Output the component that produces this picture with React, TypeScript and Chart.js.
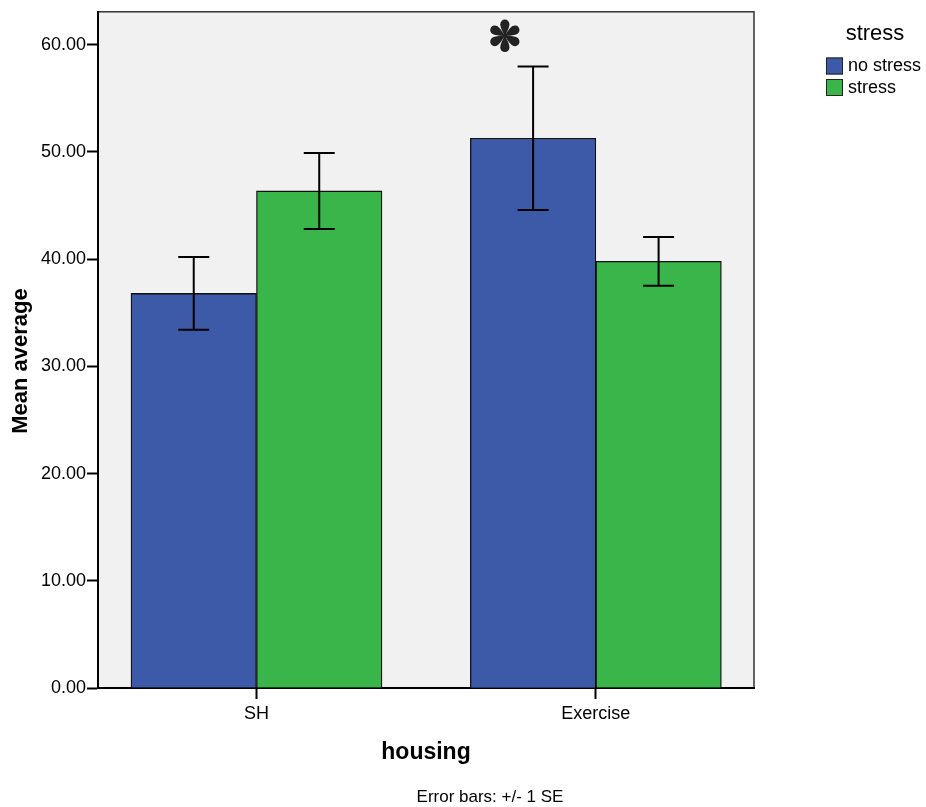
import React, { useEffect, useRef } from "react";
import { Chart, registerables } from "chart.js";

Chart.register(...registerables);

// Groups on the x axis
const categories = ["SH", "Exercise"];
// Group means per stress condition
const noStressMeans = [36.8, 51.28];
const stressMeans = [46.36, 39.8];
// Standard errors (error bars are +/- 1 SE)
const noStressSE = [3.39, 6.69];
const stressSE = [3.54, 2.27];
// Y axis tick values
const yTickValues = [0, 10, 20, 30, 40, 50, 60];

const seriesNames = ["no stress", "stress"];
const seriesColors = ["#3d5aa9", "#39b54a"];
const FONT = '"Liberation Sans", Arial, sans-serif';

const plotBackground = {
  id: "plotBackground",
  beforeDraw(chart: any) {
    const { ctx, chartArea: a } = chart;
    ctx.save();
    ctx.fillStyle = "#f0f1f0";
    ctx.fillRect(a.left, a.top, a.right - a.left, a.bottom - a.top);
    ctx.strokeStyle = "#333";
    ctx.lineWidth = 1.5;
    ctx.strokeRect(a.left, a.top, a.right - a.left, a.bottom - a.top);
    ctx.restore();
  },
};

const errorBars = {
  id: "errorBars",
  afterDatasetsDraw(chart: any) {
    const { ctx } = chart;
    const y = chart.scales.y;
    const seList = [noStressSE, stressSE];
    const means = [noStressMeans, stressMeans];
    ctx.save();
    ctx.strokeStyle = "#000";
    ctx.lineWidth = 2;
    chart.data.datasets.forEach((_: any, di: number) => {
      const meta = chart.getDatasetMeta(di);
      meta.data.forEach((bar: any, i: number) => {
        const hi = y.getPixelForValue(means[di][i] + seList[di][i]);
        const lo = y.getPixelForValue(means[di][i] - seList[di][i]);
        const cx = bar.x;
        const cap = 15.5;
        ctx.beginPath();
        ctx.moveTo(cx, hi);
        ctx.lineTo(cx, lo);
        ctx.moveTo(cx - cap, hi);
        ctx.lineTo(cx + cap, hi);
        ctx.moveTo(cx - cap, lo);
        ctx.lineTo(cx + cap, lo);
        ctx.stroke();
      });
    });
    ctx.restore();
  },
};

const annotations = {
  id: "annotations",
  afterDraw(chart: any) {
    const { ctx, chartArea: a } = chart;
    const xs = chart.scales.x;
    ctx.save();

    // significance asterisk above the Exercise / no stress bar
    const sx = xs.getPixelForValue(1) - 91;
    const sy = a.top + 24;
    ctx.fillStyle = "#222";
    for (let k = 0; k < 6; k++) {
      // teardrop petal: narrow near the centre, round at the tip
      ctx.save();
      ctx.translate(sx, sy);
      ctx.rotate((k * Math.PI) / 3);
      ctx.beginPath();
      ctx.moveTo(0, 0);
      ctx.bezierCurveTo(-2.5, -4, -4.6, -9, -4.6, -11.6);
      ctx.arc(0, -11.6, 4.6, Math.PI, 0, false);
      ctx.bezierCurveTo(4.6, -9, 2.5, -4, 0, 0);
      ctx.closePath();
      ctx.fill();
      ctx.restore();
    }
    ctx.beginPath();
    ctx.arc(sx, sy, 2.2, 0, Math.PI * 2);
    ctx.fill();

    ctx.fillStyle = "#000";
    // x axis title
    ctx.font = `bold 23px ${FONT}`;
    ctx.textAlign = "center";
    ctx.textBaseline = "alphabetic";
    ctx.fillText("housing", (a.left + a.right) / 2, 759);

    // footnote
    ctx.font = `17px ${FONT}`;
    ctx.fillText("Error bars: +/- 1 SE", 490, 802);

    // y axis title
    ctx.save();
    ctx.translate(27, 361);
    ctx.rotate(-Math.PI / 2);
    ctx.font = `bold 22px ${FONT}`;
    ctx.textAlign = "center";
    ctx.fillText("Mean average", 0, 0);
    ctx.restore();

    // legend
    ctx.font = `22px ${FONT}`;
    ctx.textAlign = "center";
    ctx.textBaseline = "middle";
    ctx.fillText("stress", 875, 34);
    ctx.font = `18px ${FONT}`;
    ctx.textAlign = "left";
    seriesNames.forEach((name, i) => {
      const by = 57.5 + i * 21.5;
      ctx.fillStyle = seriesColors[i];
      ctx.fillRect(826, by, 17, 17);
      ctx.strokeStyle = "#222";
      ctx.lineWidth = 1;
      ctx.strokeRect(826.5, by + 0.5, 16, 16);
      ctx.fillStyle = "#000";
      ctx.fillText(name, 848, by + 9);
    });
    ctx.restore();
  },
};

export default function App() {
  const ref = useRef<HTMLCanvasElement | null>(null);

  useEffect(() => {
    if (!ref.current) return;
    const chart = new Chart(ref.current, {
      type: "bar",
      data: {
        datasets: [
          {
            label: seriesNames[0],
            data: noStressMeans.map((v, i) => ({ x: i, y: v })),
            backgroundColor: seriesColors[0],
            borderColor: "#111",
            borderWidth: 1.3,
          },
          {
            label: seriesNames[1],
            data: stressMeans.map((v, i) => ({ x: i, y: v })),
            backgroundColor: seriesColors[1],
            borderColor: "#111",
            borderWidth: 1.3,
          },
        ],
      },
      options: {
        responsive: false,
        animation: false,
        devicePixelRatio: 1,
        barThickness: 125.5,
        layout: { padding: { top: 10, right: 172, bottom: 79, left: 0 } },
        plugins: {
          legend: { display: false },
          tooltip: { enabled: false },
        },
        scales: {
          x: {
            type: "linear",
            min: -0.467,
            max: 1.466,
            offset: false,
            afterFit: (s: any) => {
              s.height = 40;
            },
            afterBuildTicks: (s: any) => {
              s.ticks = categories.map((_, i) => ({ value: i }));
            },
            grid: {
              offset: false,
              drawOnChartArea: false,
              drawTicks: true,
              tickLength: 11,
              tickWidth: 2,
              tickColor: "#000",
            },
            border: { display: true, color: "#000", width: 2 },
            ticks: {
              autoSkip: false,
              maxRotation: 0,
              padding: 4,
              color: "#000",
              font: { family: FONT, size: 18 },
              callback: (v: any) => categories[Math.round(Number(v))] ?? "",
            },
          },
          y: {
            min: 0,
            max: 63.07,
            afterFit: (s: any) => {
              s.width = 98;
            },
            afterBuildTicks: (s: any) => {
              s.ticks = yTickValues.map((v) => ({ value: v }));
            },
            grid: {
              drawOnChartArea: false,
              drawTicks: true,
              tickLength: 11,
              tickWidth: 2,
              tickColor: "#000",
            },
            border: { display: true, color: "#000", width: 2 },
            ticks: {
              padding: 1,
              color: "#000",
              font: { family: FONT, size: 18 },
              callback: (v: any) => Number(v).toFixed(2),
            },
          },
        },
      } as any,
      plugins: [plotBackground, errorBars, annotations],
    });
    return () => chart.destroy();
  }, []);

  return (
    <div
      style={{
        position: "fixed",
        left: 0,
        top: 0,
        width: 926,
        height: 807,
        background: "#fff",
      }}
    >
      <canvas ref={ref} width={926} height={807} />
    </div>
  );
}
